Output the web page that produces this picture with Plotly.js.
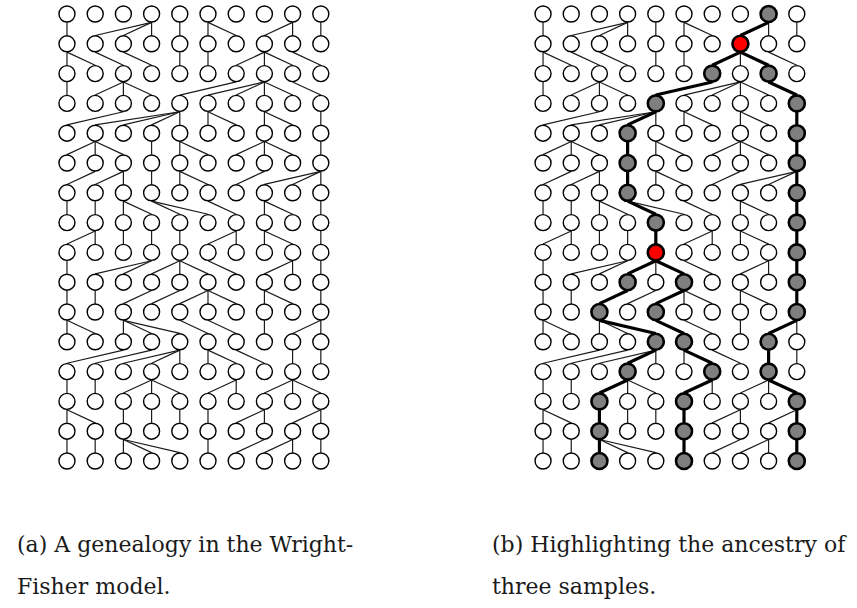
<!DOCTYPE html>
<html>
<head>
<meta charset="utf-8">
<script src="https://cdn.plot.ly/plotly-3.0.1.min.js"></script>
<style>html,body{margin:0;padding:0;background:#fff;}#chart{width:857px;height:608px;}</style>
</head>
<body>
<div id="chart"></div>
<script>
// Wright-Fisher genealogy: 10 individuals, 16 generations (row 0 = oldest, top)
const nCols = 10;
const nRows = 16;
// parent column (in previous row) for each individual of rows 1..15
const parentsRow1  = [0,3,3,3,4,5,5,8,8,9];
const parentsRow2  = [0,0,1,2,4,5,7,7,7,8];
const parentsRow3  = [0,2,2,2,6,7,7,7,7,8];
const parentsRow4  = [2,4,4,4,4,5,5,7,7,9];
const parentsRow5  = [1,1,1,3,4,4,7,7,7,9];
const parentsRow6  = [1,2,2,3,4,4,7,9,9,9];
const parentsRow7  = [0,1,2,2,3,3,5,7,7,9];
const parentsRow8  = [1,1,2,3,4,6,6,7,7,9];
const parentsRow9  = [0,3,3,4,4,4,5,8,8,9];
const parentsRow10 = [0,1,3,4,5,5,5,7,7,9];
const parentsRow11 = [0,0,2,2,2,4,5,7,9,9];
const parentsRow12 = [2,3,4,4,4,5,5,6,8,9];
const parentsRow13 = [0,1,3,3,3,6,6,8,8,8];
const parentsRow14 = [0,0,2,3,4,5,7,7,9,9];
const parentsRow15 = [0,1,2,2,2,5,7,8,8,9];
// sampled individuals in the last generation (panel b)
const samples = [2,5,9];
const captionA = ["(a) A genealogy in the Wright-", "Fisher model."];
const captionB = ["(b) Highlighting the ancestry of", "three samples."];

const parents = [null, parentsRow1, parentsRow2, parentsRow3, parentsRow4, parentsRow5,
  parentsRow6, parentsRow7, parentsRow8, parentsRow9, parentsRow10, parentsRow11,
  parentsRow12, parentsRow13, parentsRow14, parentsRow15];

// ancestry of samples
const onPath = [];
for (let r = 0; r < nRows; r++) onPath.push(new Array(nCols).fill(false));
const childCount = [];
for (let r = 0; r < nRows; r++) childCount.push(new Array(nCols).fill(0));
samples.forEach(s => { onPath[nRows-1][s] = true; });
for (let r = nRows-1; r >= 1; r--) {
  for (let c = 0; c < nCols; c++) {
    if (onPath[r][c]) {
      const p = parents[r][c];
      onPath[r-1][p] = true;
      childCount[r-1][p] += 1;
    }
  }
}

const OFF = 0.28; // circle radius in row units (lines go bottom of parent -> top of child)

function edgeTrace(xa, ya, highlightOnly, excludeHighlighted, width, color) {
  const xs = [], ys = [];
  for (let r = 1; r < nRows; r++) {
    for (let c = 0; c < nCols; c++) {
      const p = parents[r][c];
      const hl = onPath[r][c];
      if (highlightOnly && !hl) continue;
      if (excludeHighlighted && hl) continue;
      xs.push(p, c, null);
      ys.push(r-1+OFF, r-OFF, null);
    }
  }
  return {type:'scatter', mode:'lines', x:xs, y:ys, xaxis:xa, yaxis:ya,
    line:{color:color, width:width}, hoverinfo:'skip', showlegend:false};
}

function nodeTrace(xa, ya, filter, fill, lw) {
  const xs = [], ys = [];
  for (let r = 0; r < nRows; r++) for (let c = 0; c < nCols; c++) {
    if (filter(r,c)) { xs.push(c); ys.push(r); }
  }
  return {type:'scatter', mode:'markers', x:xs, y:ys, xaxis:xa, yaxis:ya,
    marker:{symbol:'circle', size:16, color:fill, line:{color:'#000', width:lw}},
    hoverinfo:'skip', showlegend:false};
}

const data = [
  // panel (a)
  edgeTrace('x','y', false, false, 1.2, '#1a1a1a'),
  nodeTrace('x','y', () => true, '#ffffff', 1.4),
  // panel (b)
  edgeTrace('x2','y2', false, true, 1.2, '#1a1a1a'),
  edgeTrace('x2','y2', true, false, 3.2, '#000000'),
  nodeTrace('x2','y2', (r,c) => !onPath[r][c], '#ffffff', 1.4),
  nodeTrace('x2','y2', (r,c) => onPath[r][c] && childCount[r][c] < 2, '#7f7f7f', 2.6),
  nodeTrace('x2','y2', (r,c) => onPath[r][c] && childCount[r][c] >= 2, '#ff0000', 2.6)
];

const ax = {showgrid:false, zeroline:false, showticklabels:false, showline:false, ticks:'', fixedrange:true};
const yRange = [15.5, -0.47];
const capFont = {family:'"DejaVu Serif", "Liberation Serif", serif', size:22, color:'#1a1a1a'};
function cap(xp, yp, txt) {
  return {xref:'paper', yref:'paper', x:xp, y:yp, xanchor:'left', yanchor:'middle',
    text:txt, showarrow:false, font:capFont};
}
const layout = {
  width:857, height:608,
  margin:{l:0, r:0, t:0, b:0},
  paper_bgcolor:'#ffffff', plot_bgcolor:'#ffffff',
  showlegend:false, hovermode:false,
  xaxis: Object.assign({}, ax, {domain:[0.0617, 0.3908], range:[-0.5, 9.5]}),
  yaxis: Object.assign({}, ax, {domain:[0.2173, 1], range:yRange}),
  xaxis2: Object.assign({}, ax, {domain:[0.6172, 0.9462], range:[-0.5, 9.5], anchor:'y2'}),
  yaxis2: Object.assign({}, ax, {domain:[0.2173, 1], range:yRange, anchor:'x2'}),
  annotations: [
    cap(0.018, 0.105, captionA[0]), cap(0.018, 0.036, captionA[1]),
    cap(0.572, 0.105, captionB[0]), cap(0.572, 0.036, captionB[1])
  ]
};
Plotly.newPlot('chart', data, layout, {staticPlot:true, displayModeBar:false});
</script>
</body>
</html>
